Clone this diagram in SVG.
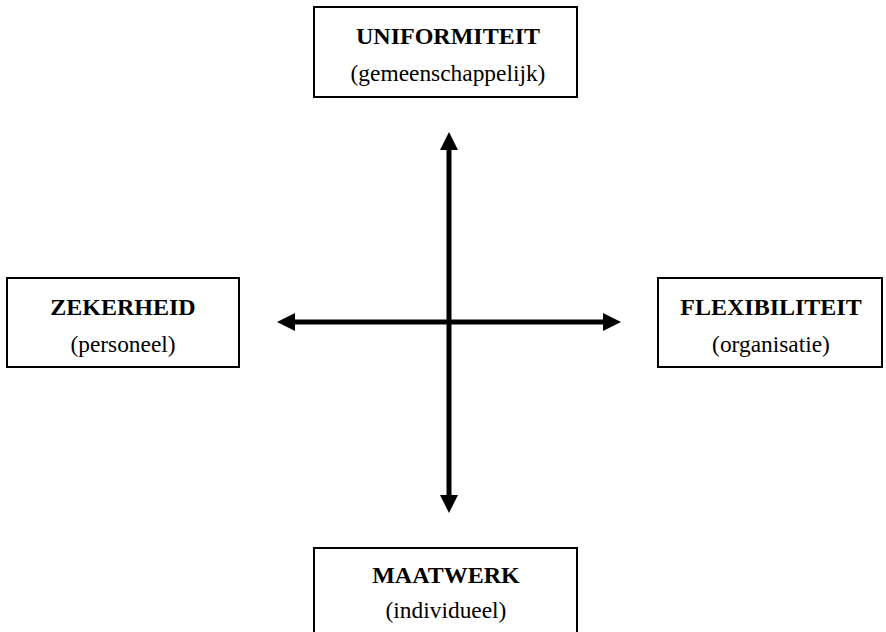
<svg xmlns="http://www.w3.org/2000/svg" width="886" height="632" viewBox="0 0 886 632">
<style>
.box{fill:#fff;stroke:#000;stroke-width:2}
.t{font-family:"Liberation Serif","Times New Roman",serif;font-size:23.4px;text-anchor:middle;fill:#000}
.b{font-weight:bold;font-size:24px}
.ax{stroke:#000;stroke-width:5;fill:none}
</style>
<defs>
<marker id="ah" viewBox="0 0 10 10" refX="0" refY="5" markerWidth="3.6" markerHeight="3.6" markerUnits="strokeWidth" orient="auto-start-reverse">
<path d="M0,0 L10,5 L0,10 Z" fill="#000"/>
</marker>
</defs>
<rect width="886" height="632" fill="#fff"/>
<g id="connectors">
<line class="ax" x1="449" y1="150" x2="449" y2="495" marker-start="url(#ah)" marker-end="url(#ah)"/>
<line class="ax" x1="295" y1="322" x2="603" y2="322" marker-start="url(#ah)" marker-end="url(#ah)"/>
</g>
<g id="uniformiteit">
<rect class="box" x="314" y="7" width="263" height="90"/>
<text class="t b" x="448" y="44">UNIFORMITEIT</text>
<text class="t" x="448" y="81">(gemeenschappelijk)</text>
</g>
<g id="zekerheid">
<rect class="box" x="7" y="278" width="232" height="89"/>
<text class="t b" x="123" y="315">ZEKERHEID</text>
<text class="t" x="123" y="352">(personeel)</text>
</g>
<g id="flexibiliteit">
<rect class="box" x="658" y="278" width="224" height="89"/>
<text class="t b" x="771" y="315">FLEXIBILITEIT</text>
<text class="t" x="771" y="352">(organisatie)</text>
</g>
<g id="maatwerk">
<rect class="box" x="314" y="548" width="263" height="90"/>
<text class="t b" x="446" y="583">MAATWERK</text>
<text class="t" x="446" y="618">(individueel)</text>
</g>
</svg>
